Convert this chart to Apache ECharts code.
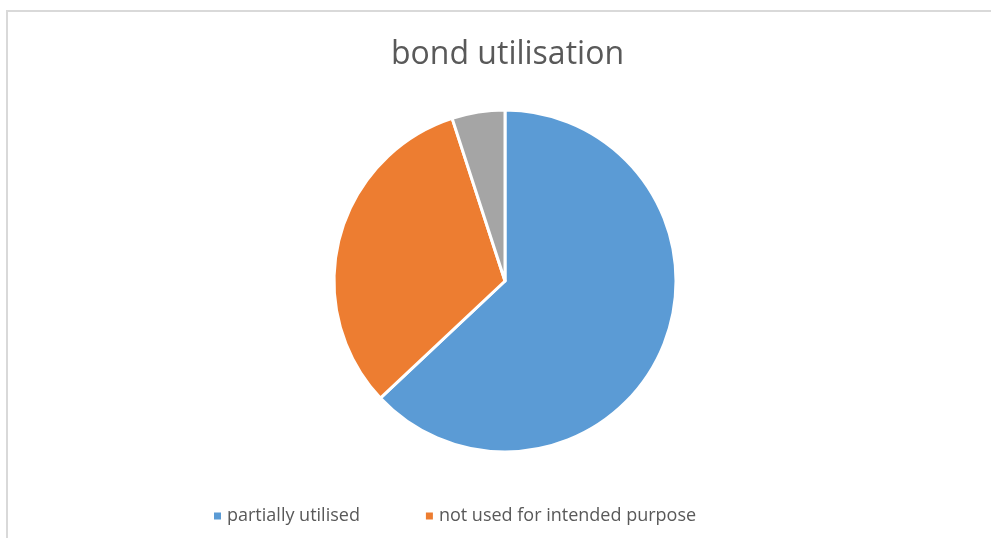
<!DOCTYPE html>
<html>
<head>
<meta charset="utf-8">
<script src="https://cdn.jsdelivr.net/npm/echarts@6/dist/echarts.min.js"></script>
<style>
html,body{margin:0;padding:0;background:#fff;}
#chart{width:991px;height:538px;}
</style>
</head>
<body>
<div id="chart"></div>
<script>
const titleText = 'bond utilisation';
const categories = ['partially utilised', 'not used for intended purpose', 'fully utilised'];
const values = [63, 32, 5];
const legendNames = ['partially utilised', 'not used for intended purpose'];
const colors = ['#5b9bd5', '#ed7d31', '#a5a5a5'];

const chart = echarts.init(document.getElementById('chart'));
chart.setOption({
  animation: false,
  backgroundColor: '#fff',
  color: colors,
  graphic: [
    { type: 'line', shape: { x1: 7, y1: 11, x2: 1000, y2: 11 }, style: { stroke: '#d9d9d9', lineWidth: 2 }, silent: true },
    { type: 'line', shape: { x1: 7, y1: 10, x2: 7, y2: 560 }, style: { stroke: '#d9d9d9', lineWidth: 2 }, silent: true }
  ],
  title: {
    text: titleText,
    left: 386,
    top: 34,
    textStyle: { fontFamily: 'Open Sans', fontWeight: 'normal', fontSize: 32, color: '#595959' }
  },
  legend: {
    data: legendNames,
    left: 207,
    top: 502,
    icon: 'rect',
    itemWidth: 9,
    itemHeight: 9,
    itemGap: 64,
    textStyle: { fontFamily: 'Open Sans', fontSize: 18, color: '#595959' }
  },
  series: [{
    type: 'pie',
    center: [505, 281],
    radius: 171,
    startAngle: 90,
    clockwise: true,
    label: { show: false },
    labelLine: { show: false },
    itemStyle: { borderColor: '#fff', borderWidth: 3 },
    emphasis: { disabled: true },
    data: categories.map((c, i) => ({ name: c, value: values[i] }))
  }]
});
</script>
</body>
</html>
